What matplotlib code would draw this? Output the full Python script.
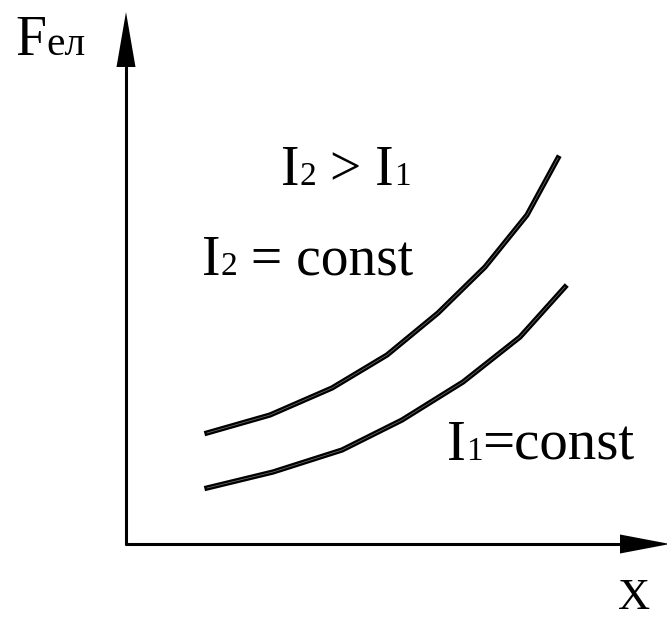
import matplotlib
matplotlib.use("Agg")
import matplotlib.pyplot as plt

W, H = 667, 620

# кривые Fел(x), координаты в пикселях картинки
X_I2 = [207, 270, 332, 387, 438, 485, 527, 558]
Y_I2 = [433, 415, 388, 355, 313, 267, 215, 158]
X_I1 = [207, 273, 342, 402, 463, 520, 565]
Y_I1 = [488, 472, 450, 420, 382, 337, 287]

SERIF = "Liberation Serif"
BIG = 40
SMALL = 24

fig = plt.figure(figsize=(W / 100, H / 100), dpi=100)
ax = fig.add_axes([0, 0, 1, 1])
ax.set_xlim(0, W)
ax.set_ylim(H, 0)
ax.axis("off")

# оси со стрелками
ax.plot([126, 126], [545, 60], color="black", lw=2.2, solid_capstyle="butt")
ax.plot([125, 625], [544, 544], color="black", lw=2.2, solid_capstyle="butt")
ax.fill([116.5, 135.5, 126], [67, 67, 12], color="black", lw=0)
ax.fill([620, 620, 670], [534.5, 553.5, 544], color="black", lw=0)

# кривые
for xs, ys in [(X_I2, Y_I2), (X_I1, Y_I1)]:
    ax.plot(xs, ys, color="black", lw=3.8, solid_joinstyle="miter")
    ax.plot(xs, ys, color="#777777", lw=0.5)

fig.canvas.draw()
renderer = fig.canvas.get_renderer()


def chain(x, y, pieces):
    # рисуем куски текста подряд, разного размера, по одной базовой линии
    for s, size in pieces:
        t = ax.text(x, y, s, fontsize=size, family=SERIF, ha="left", va="baseline")
        bb = t.get_window_extent(renderer=renderer)
        x += bb.width


chain(15, 55, [("F", BIG), ("ел", 30)])
chain(281, 185, [("I", BIG), ("2", SMALL), (" > I", BIG), ("1", SMALL)])
chain(202, 275, [("I", BIG), ("2", SMALL), (" = const", BIG)])
chain(447, 460, [("I", 41), ("1", SMALL), ("=const", 41)])
ax.text(618, 609, "X", fontsize=32, family=SERIF, ha="left", va="baseline")

fig.savefig("out.png", dpi=100)
